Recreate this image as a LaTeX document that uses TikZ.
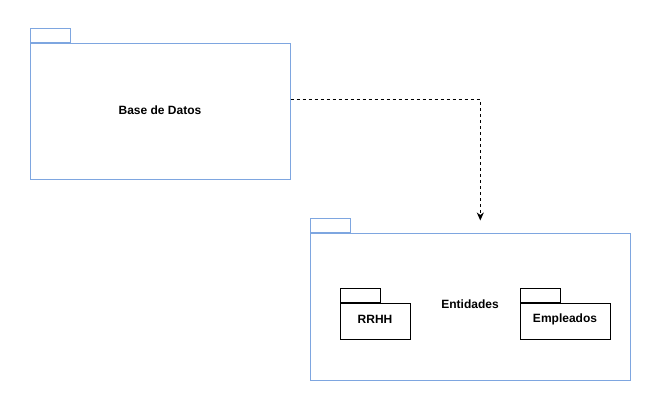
\documentclass[tikz,border=0pt]{standalone}
\usepackage{fontspec}
\setmainfont{Liberation Sans}
\usetikzlibrary{arrows.meta,positioning}
\definecolor{pkgblue}{RGB}{126,166,224}

\begin{document}
\begin{tikzpicture}[x=1pt,y=-1pt,>={Stealth[length=8pt,width=7pt,inset=2.5pt]},line width=1pt,
                    font=\fontsize{12}{14}\selectfont\bfseries,
                    pkg/.style={draw=pkgblue,inner sep=0pt},
                    sub/.style={draw=black,inner sep=0pt,minimum height=36pt},
                    tab/.style={inner sep=0pt,minimum width=40pt,minimum height=14pt}]
    \useasboundingbox (0,0) rectangle (661,411);
    \node [pkg,minimum width=260pt,minimum height=136pt] (bd)  at (160,112) {};
    \node [pkg,tab,anchor=south west] (bdtab) at (bd.north west) {};
    \node (bdlbl) at (160,110) {Base de Datos};
    \node [pkg,minimum width=320pt,minimum height=146pt] (ent) at (470.3,307) {};
    \node [pkg,tab,anchor=south west] (enttab) at (ent.north west) {};
    \node (entlbl) at (470,304) {Entidades};
    \node [sub,minimum width=70pt] (rrhh) at (375.3,322) {};
    \node [draw,tab,anchor=south west] (rrhhtab) at (rrhh.north west) {};
    \node (rrhhlbl) at (375,319) {RRHH};
    \node [sub,minimum width=90pt] (emp) at (565.3,322) {};
    \node [draw,tab,anchor=south west] (emptab) at (emp.north west) {};
    \node (emplbl) at (565,319) {Empleados};
    \coordinate (tip) at ([xshift=10pt,yshift=13pt]ent.north);
    \draw [->,dash pattern=on 3pt off 3pt] ([yshift=12pt]bd.east) -| (tip);
\end{tikzpicture}
\end{document}
